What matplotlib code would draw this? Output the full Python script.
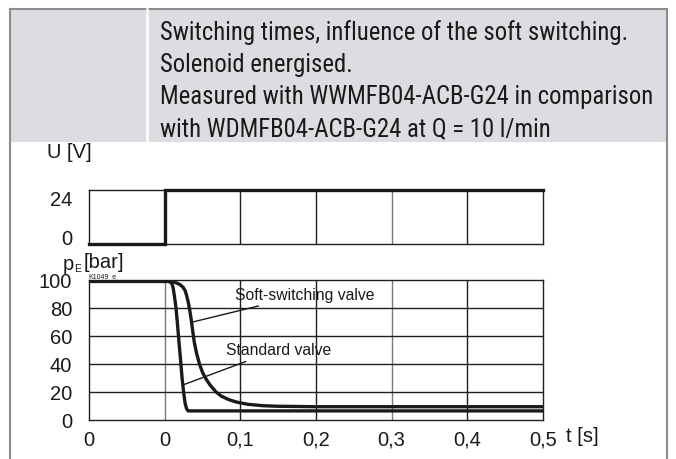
import numpy as np
import matplotlib.pyplot as plt
from matplotlib.patches import Rectangle
from matplotlib.lines import Line2D

# Header text
header_lines = [
    'Switching times, influence of the soft switching.',
    'Solenoid energised.',
    'Measured with WWMFB04-ACB-G24 in comparison',
    'with WDMFB04-ACB-G24 at Q = 10 l/min',
]

# Time axis (grid from -0.1 so the first "0" column is before switching)
x_ticks = [-0.1, 0.0, 0.1, 0.2, 0.3, 0.4, 0.5]
x_labels = ['0', '0', '0,1', '0,2', '0,3', '0,4', '0,5']

# Solenoid voltage
u_t = [-0.1, 0.0, 0.0, 0.5]
u_v = [0, 0, 24, 24]

# Standard valve pressure
std_t = [-0.1, 0.0, 0.005, 0.009, 0.011, 0.013, 0.015, 0.017, 0.019, 0.021,
         0.023, 0.025, 0.027, 0.029, 0.031, 0.05, 0.5]
std_p = [99, 99, 99, 98, 95, 88, 80, 68, 55, 43, 30, 20, 12, 8, 6.5, 6.5, 6.5]

# Soft-switching valve pressure
soft_t = [-0.1, 0.0, 0.008, 0.012, 0.016, 0.020, 0.024, 0.027, 0.029, 0.031,
          0.033, 0.035, 0.037, 0.039, 0.042, 0.046, 0.050, 0.055, 0.060, 0.068,
          0.075, 0.085, 0.095, 0.11, 0.13, 0.15, 0.2, 0.5]
soft_p = [99, 99, 99, 98.5, 97.8, 96.8, 95, 92.5, 89, 84.5,
          79, 72, 64, 56, 48, 40, 34, 29, 25, 20,
          17, 14.5, 12.8, 11.2, 10.2, 9.8, 9.5, 9.5]

W, H = 676, 460
fig = plt.figure(figsize=(W / 100, H / 100), dpi=100)
fig.patch.set_facecolor('white')

def fx(px):
    return px / W

def fy(py):
    return 1 - py / H

narrow = ['Liberation Sans Narrow', 'Roboto Condensed', 'DejaVu Sans Condensed', 'DejaVu Sans']
arial = ['Liberation Sans', 'DejaVu Sans']
ink = '#1a1a1a'

# Header band and outer frame
fig.patches.append(Rectangle((fx(10), fy(143)), fx(667) - fx(10), fy(10) - fy(143),
                             transform=fig.transFigure, facecolor='#dcdde0',
                             edgecolor='none', zorder=0))
frame = '#8c8c8c'
fig.lines.append(Line2D([fx(10), fx(10)], [0, fy(10)], transform=fig.transFigure, color=frame, lw=1.5))
fig.lines.append(Line2D([fx(667), fx(667)], [0, fy(10)], transform=fig.transFigure, color=frame, lw=1.5))
fig.lines.append(Line2D([fx(10), fx(667)], [fy(10), fy(10)], transform=fig.transFigure, color=frame, lw=1.5))
fig.lines.append(Line2D([fx(147), fx(147)], [fy(143), fy(10)], transform=fig.transFigure, color='white', lw=1.8))

for i, line in enumerate(header_lines):
    fig.text(fx(160), fy(33 + 32 * i), line, fontsize=17.8, family=narrow,
             color=ink, va='center', ha='left')

grid_dark = '#1f1f1f'
grid_gray = '#7a7a7a'

def style_axes(ax):
    for s in ax.spines.values():
        s.set_color(grid_dark)
        s.set_linewidth(1.0)
    ax.set_xlim(-0.1, 0.5)
    ax.tick_params(length=0, labelsize=14.5, labelcolor=ink)
    for t, c in zip(x_ticks[1:-1], [grid_gray, grid_dark, grid_dark, grid_gray, grid_dark]):
        ax.axvline(t, color=c, lw=1.0, zorder=1)
    for lab in ax.get_yticklabels() + ax.get_xticklabels():
        lab.set_family(arial)

# Voltage axes
ax_u = fig.add_axes([fx(89), fy(245), fx(543) - fx(89), fy(191) - fy(245)])
ax_u.set_ylim(0, 24)
ax_u.set_yticks([0, 24])
ax_u.set_xticks([])
style_axes(ax_u)
ax_u.plot(u_t, u_v, color=ink, lw=2.4, solid_joinstyle='miter', clip_on=False, zorder=3)
ax_u.tick_params(axis='y', pad=12)
ax_u.get_yticklabels()[0].set_va('baseline')
ax_u.get_yticklabels()[1].set_va('top')
fig.text(fx(69), fy(153), 'U [V]', fontsize=14.5, family=arial, ha='center', va='center', color=ink)

# Pressure axes
ax_p = fig.add_axes([fx(89), fy(421), fx(543) - fx(89), fy(281) - fy(421)])
ax_p.set_ylim(0, 100)
ax_p.set_yticks([0, 20, 40, 60, 80, 100])
ax_p.set_xticks(x_ticks)
ax_p.set_xticklabels(x_labels)
style_axes(ax_p)
for v in [20, 40, 60, 80]:
    ax_p.axhline(v, color=grid_dark, lw=1.0, zorder=1)
ax_p.tick_params(axis='y', pad=12)
ax_p.tick_params(axis='x', pad=7)
ax_p.plot(std_t, std_p, color=ink, lw=2.4, zorder=3)
ax_p.plot(soft_t, soft_p, color=ink, lw=2.4, zorder=3)

ax_p.annotate('Soft-switching valve', xy=(0.037, 70), xytext=(0.093, 89.5),
              fontsize=11.3, family=arial, va='center', ha='left', color=ink,
              arrowprops=dict(arrowstyle='-', color=ink, lw=1.0, shrinkA=3, shrinkB=0))
ax_p.annotate('Standard valve', xy=(0.024, 25), xytext=(0.081, 50.5),
              fontsize=11.3, family=arial, va='center', ha='left', color=ink,
              arrowprops=dict(arrowstyle='-', color=ink, lw=1.0, shrinkA=4, shrinkB=0))

# p_E [bar] label built from pieces so the subscript stays small
fig.text(fx(63), fy(264), 'p', fontsize=14.5, family=arial, ha='left', va='center', color=ink)
fig.text(fx(74.5), fy(269), 'E', fontsize=7.5, family=arial, ha='left', va='center', color=ink)
fig.text(fx(84), fy(263), '[bar]', fontsize=14.5, family=arial, ha='left', va='center', color=ink)
fig.text(fx(88), fy(277), 'K1049_e', fontsize=5, family=arial, ha='left', va='center', color=ink)
fig.text(fx(566), fy(437), 't [s]', fontsize=14.5, family=arial, ha='left', va='center', color=ink)

fig.savefig('out.png', dpi=100)
